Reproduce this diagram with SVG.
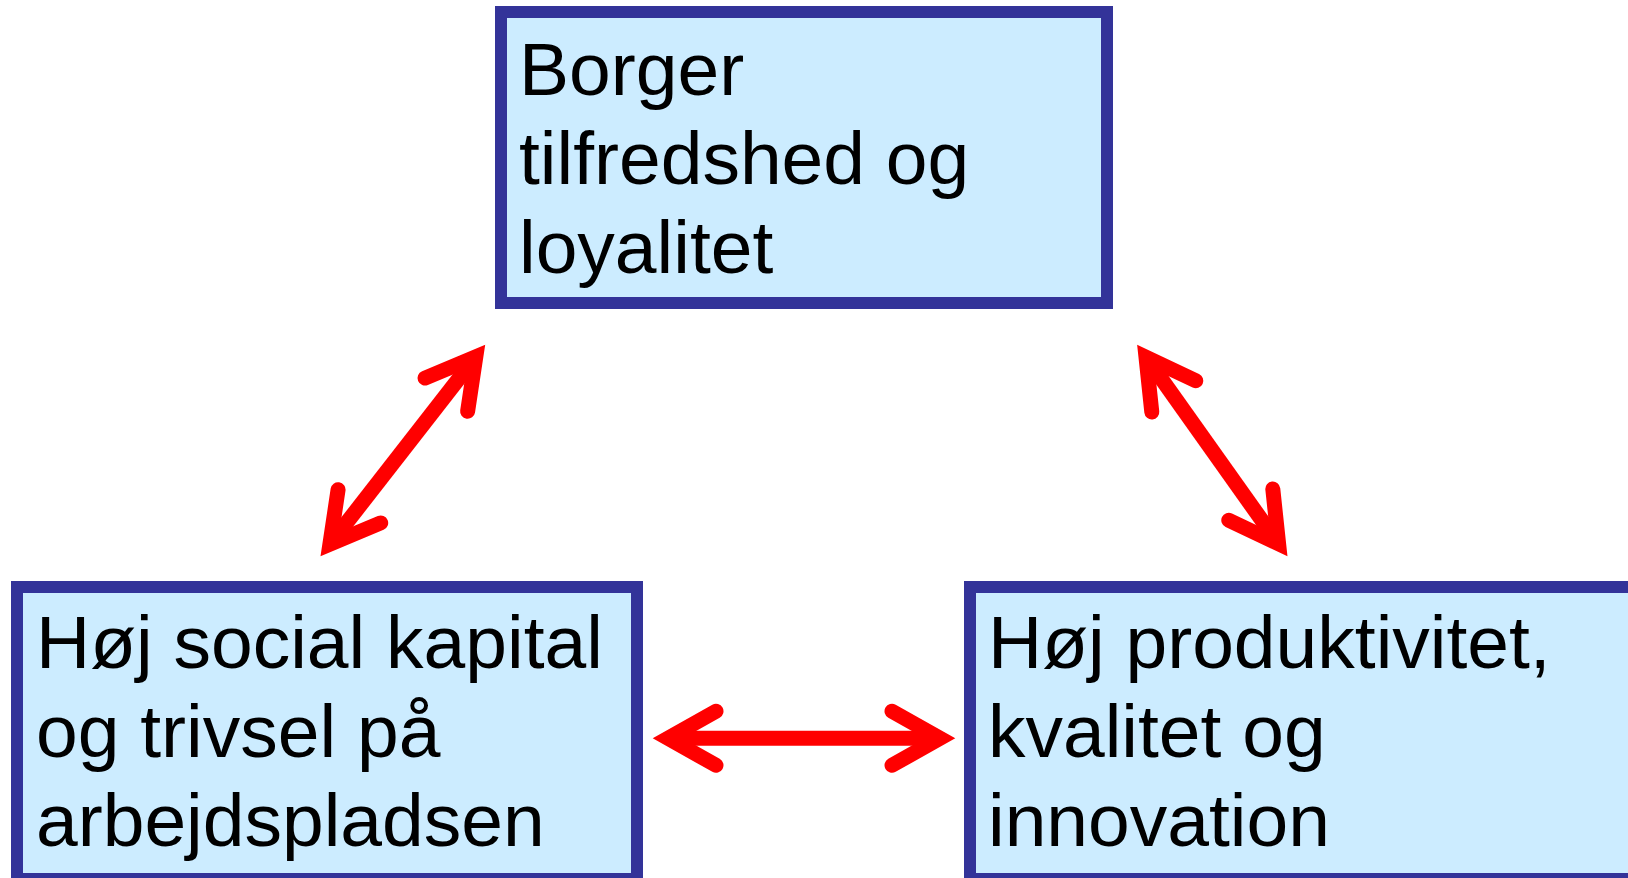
<svg xmlns="http://www.w3.org/2000/svg" width="1628" height="878" viewBox="0 0 1628 878">
  <style>
    .box { fill: #CCECFF; stroke: #333399; stroke-width: 12; }
    .label { font-family: "Liberation Sans", Arial, sans-serif; font-size: 75px; fill: #000000; }
    .link { fill: none; stroke: #FF0000; stroke-width: 15; stroke-linecap: butt; }
  </style>
  <defs>
    <!-- open arrowhead: two thick barbs with a sharp mitred tip and rounded ends -->
    <marker id="head" markerUnits="userSpaceOnUse" markerWidth="120" markerHeight="120"
            refX="0" refY="0" orient="auto-start-reverse" overflow="visible">
      <path d="M -48,-27 L 0,0 L -48,27" fill="none" stroke="#FF0000" stroke-width="15"
            stroke-linecap="round" stroke-linejoin="miter"/>
    </marker>
  </defs>

  <rect width="1628" height="878" fill="#FFFFFF"/>

  <g id="connectors">
    <line class="link" x1="329.9" y1="544.2" x2="475.8" y2="356.8" marker-start="url(#head)" marker-end="url(#head)"/>
    <line class="link" x1="1146" y1="357.2" x2="1278.6" y2="543.8" marker-start="url(#head)" marker-end="url(#head)"/>
    <line class="link" x1="668" y1="738.3" x2="940" y2="738.3" marker-start="url(#head)" marker-end="url(#head)"/>
  </g>

  <g id="node-borger">
    <rect class="box" x="501" y="12" width="606" height="291"/>
    <text class="label" x="519">
      <tspan x="519" y="95">Borger</tspan>
      <tspan x="519" y="184">tilfredshed og</tspan>
      <tspan x="519" y="273">loyalitet</tspan>
    </text>
  </g>

  <g id="node-social">
    <rect class="box" x="17" y="587" width="620" height="292"/>
    <text class="label" x="36">
      <tspan x="36" y="668">Høj social kapital</tspan>
      <tspan x="36" y="757">og trivsel på</tspan>
      <tspan x="36" y="846">arbejdspladsen</tspan>
    </text>
  </g>

  <g id="node-produktivitet">
    <rect class="box" x="970" y="587" width="680" height="292"/>
    <text class="label" x="988">
      <tspan x="988" y="668">Høj produktivitet,</tspan>
      <tspan x="988" y="757">kvalitet og</tspan>
      <tspan x="988" y="846">innovation</tspan>
    </text>
  </g>
</svg>
